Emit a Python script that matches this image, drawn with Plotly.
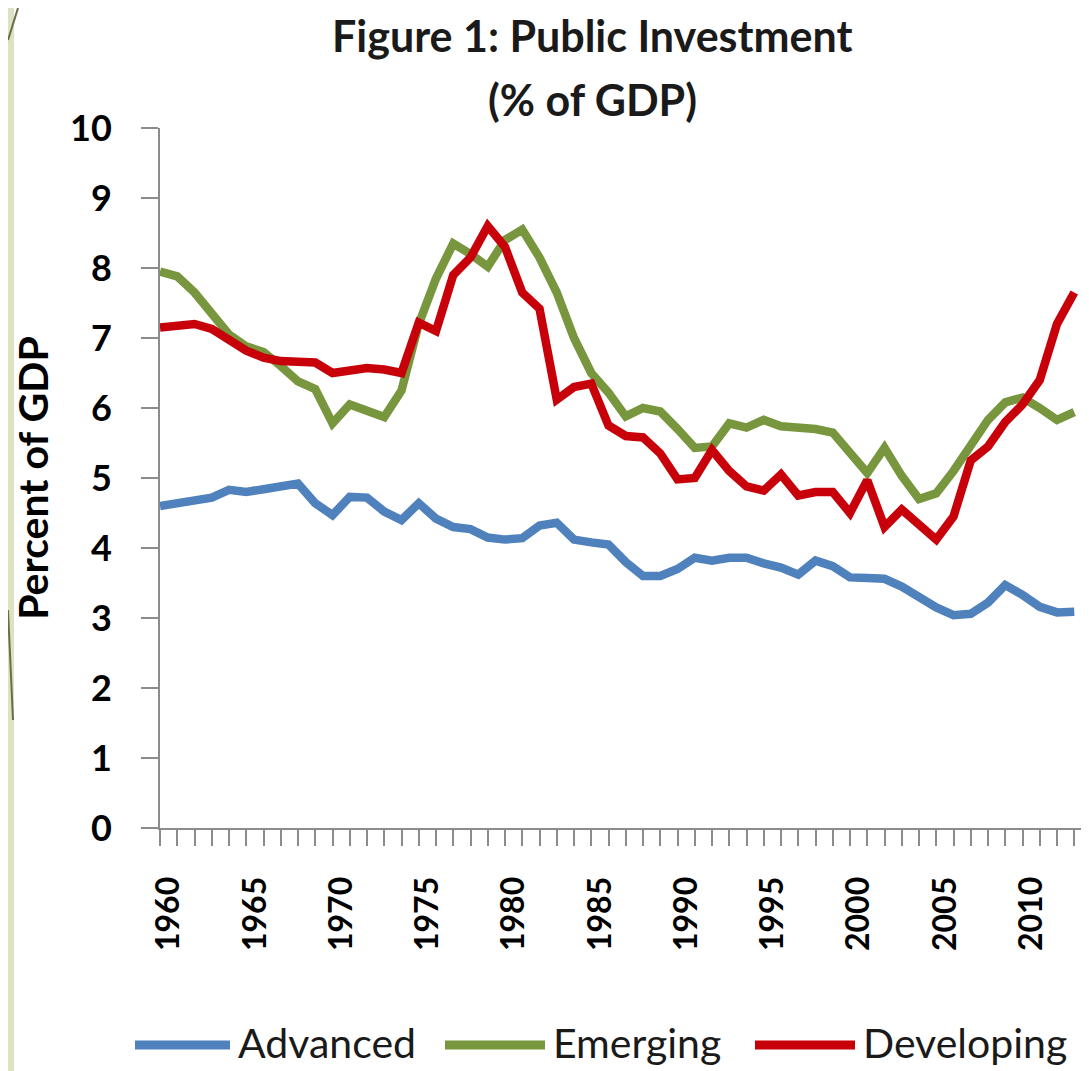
import plotly.graph_objects as go

years = list(range(1960, 2014))

advanced = [
    4.60, 4.65, 4.68, 4.72, 4.83, 4.80, 4.84, 4.87, 4.92, 4.64,
    4.47, 4.73, 4.72, 4.52, 4.40, 4.64, 4.42, 4.30, 4.27, 4.15,
    4.12, 4.14, 4.32, 4.36, 4.12, 4.08, 4.05, 3.80, 3.60, 3.60,
    3.70, 3.86, 3.82, 3.86, 3.86, 3.78, 3.72, 3.62, 3.82, 3.74,
    3.58, 3.57, 3.56, 3.45, 3.30, 3.15, 3.04, 3.06, 3.22, 3.47,
    3.33, 3.16, 3.08, 3.09,
]
emerging = [
    7.95, 7.88, 7.65, 7.35, 7.05, 6.88, 6.80, 6.60, 6.38, 6.27,
    5.78, 6.05, 5.95, 5.87, 6.25, 7.20, 7.85, 8.35, 8.20, 8.02,
    8.40, 8.55, 8.15, 7.65, 7.00, 6.50, 6.22, 5.88, 6.00, 5.95,
    5.70, 5.43, 5.45, 5.78, 5.72, 5.83, 5.74, 5.73, 5.70, 5.65,
    5.36, 5.07, 5.43, 5.03, 4.70, 4.78, 5.10, 5.48, 5.83, 6.08,
    6.15, 6.00, 5.83, 5.94,
]
developing = [
    7.15, 7.16, 7.20, 7.13, 6.98, 6.82, 6.72, 6.67, 6.66, 6.65,
    6.50, 6.55, 6.57, 6.55, 6.50, 7.22, 7.10, 7.90, 8.15, 8.60,
    8.30, 7.65, 7.42, 6.12, 6.30, 6.35, 5.75, 5.60, 5.58, 5.35,
    4.98, 5.00, 5.40, 5.10, 4.88, 4.82, 5.05, 4.75, 4.80, 4.80,
    4.50, 4.97, 4.30, 4.55, 4.35, 4.12, 4.45, 5.25, 5.45, 5.80,
    6.05, 6.40, 7.20, 7.65,
]

series = [
    ("Advanced", advanced, "#4F81BD"),
    ("Emerging", emerging, "#77963D"),
    ("Developing", developing, "#C8000A"),
]

AXIS_GRAY = "#8C8C8C"
TEXT = "#1A1A1A"

# the page body has an 8px margin, so the figure sits 8px in from the window
OFF = 8
FIG_W, FIG_H = 1089 - OFF, 1071 - OFF
# plot area in window pixels: x 160..1089, y 128..828
L, T, B = 160 - OFF, 128 - OFF, 828 - OFF
W = FIG_W - L
H = B - T


def px_x(px):
    return (px - OFF - L) / W


def px_y(py):
    return (B - (py - OFF)) / H


fig = go.Figure()
for name, values, color in series:
    fig.add_trace(
        go.Scatter(
            x=years,
            y=values,
            mode="lines",
            name=name,
            line=dict(color=color, width=8.5),
            showlegend=False,
        )
    )

# hand-made legend so the line samples are as long as in the original
legend_slots = [(135, 230, 236), (445, 545, 551), (755, 855, 861)]
shapes = [
    dict(
        type="rect", xref="paper", yref="paper",
        x0=px_x(OFF), x1=px_x(OFF + 6), y0=px_y(1071), y1=px_y(OFF),
        fillcolor="#DCE3C2", line=dict(width=0), layer="below",
    ),
    dict(
        type="line", xref="paper", yref="paper",
        x0=px_x(OFF + 10), y0=px_y(OFF), x1=px_x(OFF), y1=px_y(40),
        line=dict(color="#6E6A4E", width=2),
    ),
    dict(
        type="line", xref="paper", yref="paper",
        x0=px_x(OFF), y0=px_y(610), x1=px_x(OFF + 5), y1=px_y(720),
        line=dict(color="#6E6A4E", width=2),
    ),
]
annotations = [
    dict(
        text="<b>Figure 1: Public Investment</b>",
        xref="paper", yref="paper",
        x=px_x(592), y=px_y(36),
        showarrow=False, xanchor="center", yanchor="middle",
        font=dict(size=43, family="Lato", color=TEXT),
    ),
    dict(
        text="<b>(% of GDP)</b>",
        xref="paper", yref="paper",
        x=px_x(592), y=px_y(100),
        showarrow=False, xanchor="center", yanchor="middle",
        font=dict(size=43, family="Lato", color=TEXT),
    ),
]
for (name, _, color), (x0, x1, tx) in zip(series, legend_slots):
    shapes.append(
        dict(
            type="line", xref="paper", yref="paper",
            x0=px_x(x0), x1=px_x(x1), y0=px_y(1045), y1=px_y(1045),
            line=dict(color=color, width=9),
        )
    )
    annotations.append(
        dict(
            text=name, xref="paper", yref="paper",
            x=px_x(tx), y=px_y(1042),
            showarrow=False, xanchor="left", yanchor="middle",
            font=dict(size=41, family="Lato", color=TEXT),
        )
    )

fig.update_layout(
    width=FIG_W,
    height=FIG_H,
    margin=dict(l=L, r=0, t=T, b=FIG_H - B),
    paper_bgcolor="white",
    plot_bgcolor="white",
    font=dict(family="Lato", color=TEXT),
    showlegend=False,
    shapes=shapes,
    annotations=annotations,
)

fig.update_xaxes(
    range=[1960, 1960 + W / 17.25],
    tickmode="array",
    tickvals=list(range(1960, 2014, 5)),
    ticktext=[str(y) for y in range(1960, 2014, 5)],
    tickangle=-90,
    ticks="outside",
    ticklen=16,
    tickwidth=2,
    tickcolor=AXIS_GRAY,
    ticklabelshift=9,
    ticklabelstandoff=18,
    minor=dict(dtick=1, tick0=1960, ticks="outside", ticklen=16, tickwidth=2, tickcolor=AXIS_GRAY),
    tickfont=dict(size=32, family="Lato", color="black", weight="bold"),
    showline=True,
    linecolor=AXIS_GRAY,
    linewidth=2,
    showgrid=False,
    zeroline=False,
)
fig.update_yaxes(
    range=[0, 10],
    dtick=1,
    ticks="outside",
    ticklen=17,
    tickwidth=2,
    tickcolor=AXIS_GRAY,
    ticklabelstandoff=22,
    tickfont=dict(size=36, family="Lato", color="black", weight="bold"),
    showline=True,
    linecolor=AXIS_GRAY,
    linewidth=2,
    showgrid=False,
    zeroline=False,
    title=dict(
        text="<b>Percent of GDP</b>",
        font=dict(size=41, family="Lato", color="black"),
        standoff=10,
    ),
)

fig.write_html("out.html")
